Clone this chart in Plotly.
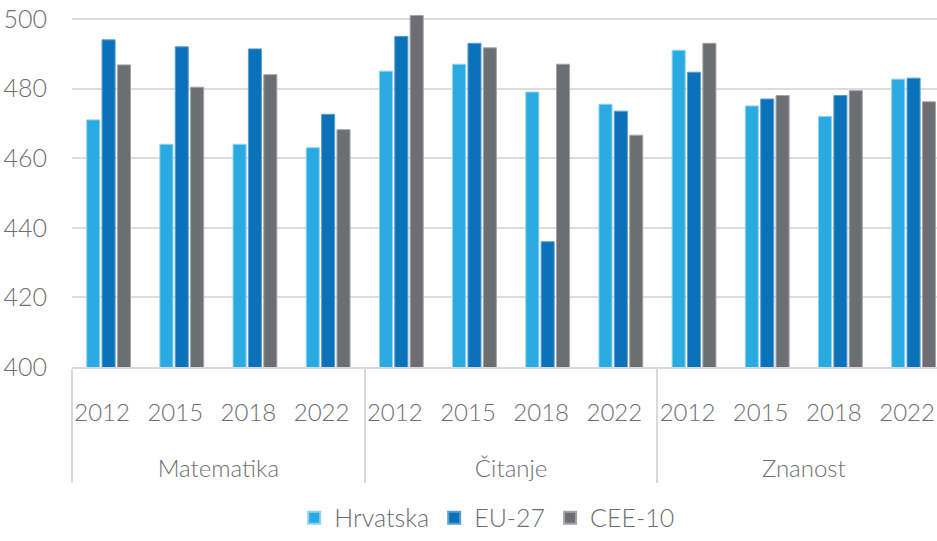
import plotly.graph_objects as go

subjects = ["Matematika", "Čitanje", "Znanost"]
years = ["2012", "2015", "2018", "2022"]

hrvatska = [471, 464, 464, 463, 485, 487, 479, 475.5, 491, 475, 472, 482.7]
eu27 = [494, 492, 491.4, 472.6, 495, 493, 436, 473.5, 484.7, 477, 478, 483]
cee10 = [486.8, 480.4, 484, 468.2, 501, 491.7, 487, 466.6, 493, 478, 479.4, 476.2]

series_names = ["Hrvatska", "EU-27", "CEE-10"]
colors = ["#29ABE2", "#0B72B9", "#6D6E71"]
edge_colors = ["#8FD3F1", "#5A9FD2", "#A3A4A6"]

LBL = "<span style='font-size:24px'>{}</span>"
x_outer = ["<br>" + LBL.format(s) for s in subjects for _ in years]
x_inner = [LBL.format(y + "&nbsp;&nbsp;") for _ in subjects for y in years]

fig = go.Figure()
for name, vals, c, ec in zip(series_names, [hrvatska, eu27, cee10], colors, edge_colors):
    fig.add_trace(go.Bar(
        x=[x_outer, x_inner], y=vals, name=name,
        marker=dict(color=c, line=dict(color=ec, width=1)),
    ))

font_family = "Lato"
grey = "#6D6E71"

fig.update_layout(
    width=937, height=541,
    margin=dict(l=72, r=0, t=12, b=166),
    paper_bgcolor="white", plot_bgcolor="white",
    barmode="group", bargap=0.37, bargroupgap=0.15,
    font=dict(family=font_family, color=grey, size=24, weight=300),
    legend=dict(orientation="h", x=0.48, xanchor="center", y=-0.425, yanchor="middle",
                font=dict(size=25, color=grey, family=font_family, weight=300),
                itemsizing="constant", traceorder="normal", itemwidth=30),
    showlegend=True,
)
fig.update_xaxes(
    type="multicategory",
    range=[-0.5, 11.32],
    automargin=False,
    tickangle=0,
    showline=True, linecolor="#D9D9D9", linewidth=1.5,
    showdividers=True, dividercolor="#D9D9D9", dividerwidth=1.5,
    tickfont=dict(size=31, color=grey, family=font_family, weight=300),
    ticklabelstandoff=15, ticklabeloverflow="allow",
    ticks="", showgrid=False,
)
fig.update_yaxes(
    range=[400, 502],
    automargin=False,
    tickvals=[400, 420, 440, 460, 480, 500],
    showgrid=True, gridcolor="#DCDCDC", gridwidth=1.5,
    zeroline=False, showline=False,
    tickfont=dict(size=25, color=grey, family=font_family, weight=300),
    ticklabelstandoff=24, ticklabeloverflow="allow",
)

fig.write_html(
    "out.html",
    config={"displayModeBar": False},
    post_script="document.body.style.margin='0';document.body.style.overflow='hidden';",
)
